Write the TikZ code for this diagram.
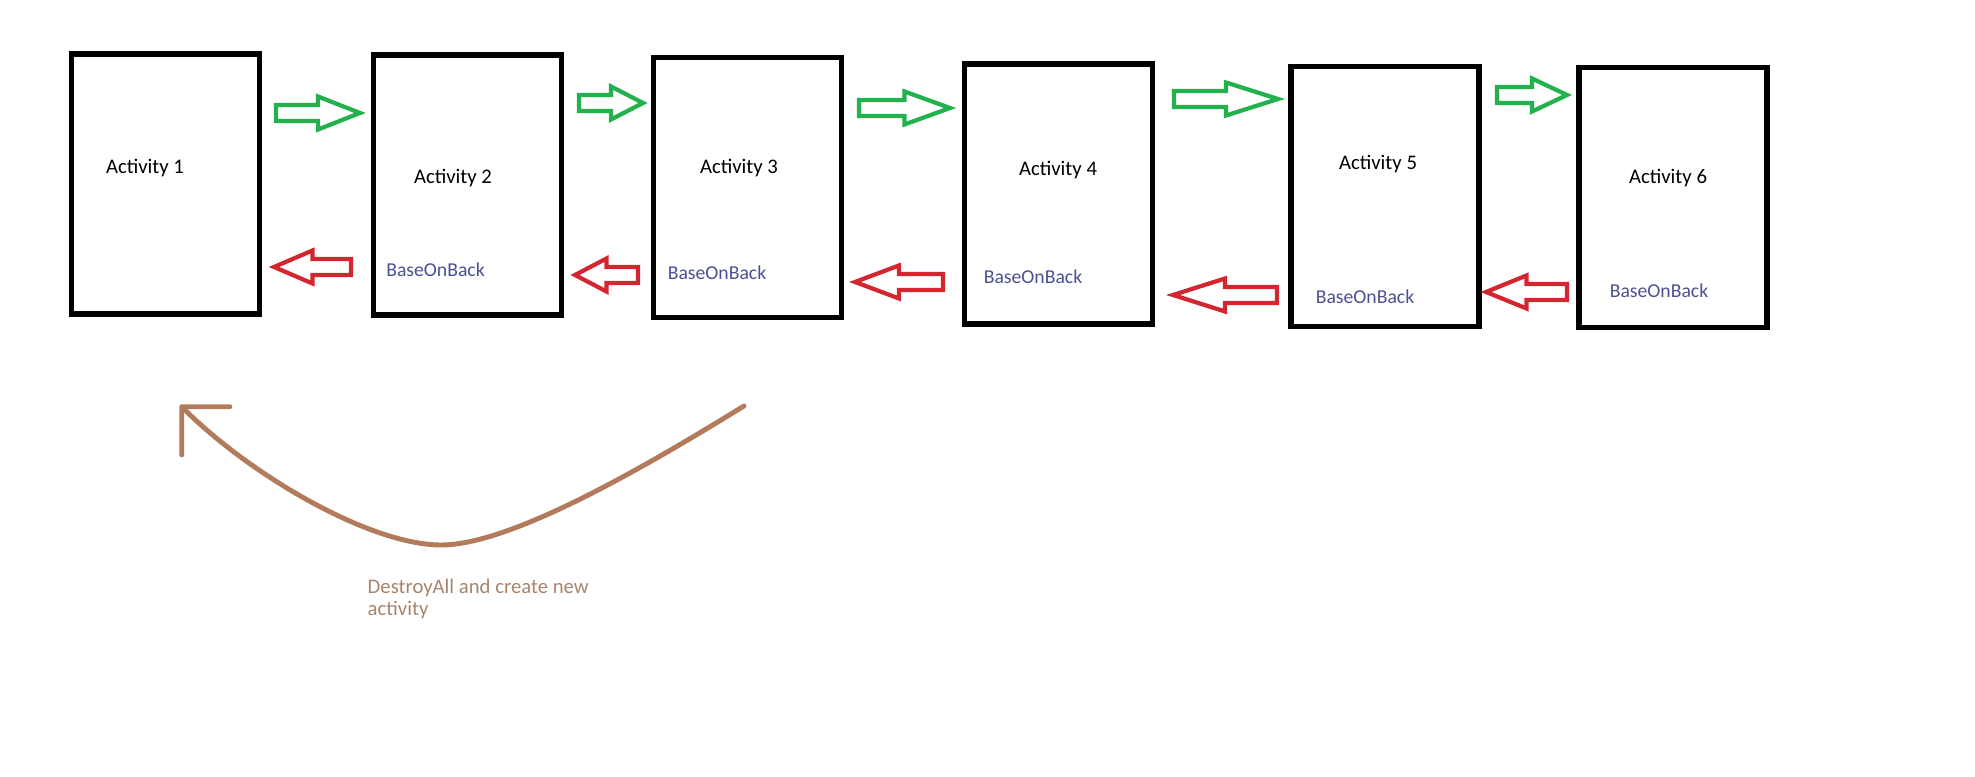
\documentclass[tikz,border=0pt]{standalone}
\usepackage{fontspec}
\setmainfont{Carlito}
\usepackage{tikz}
\usetikzlibrary{arrows.meta,calc}
\definecolor{paintgreen}{HTML}{22B14C}
\definecolor{paintred}{HTML}{D42630}
\definecolor{paintbrown}{HTML}{B27C5C}
\definecolor{backblue}{HTML}{4A5092}
\definecolor{notebrown}{HTML}{A8846C}
\tikzset{
  actbox/.style={draw=black,line width=1.6pt,minimum width=1.88cm,minimum height=2.6cm,inner sep=0pt},
  actlabel/.style={font=\fontsize{5.9}{7}\selectfont,text=black,inner sep=0pt},
  backlabel/.style={font=\fontsize{5.6}{7}\selectfont,text=backblue,inner sep=0pt},
  notelabel/.style={font=\fontsize{5.9}{6.4}\selectfont,text=notebrown,inner sep=0pt,align=left},
  fwdarrow/.style={draw=paintgreen,line width=1.2pt},
  backarrow/.style={draw=paintred,line width=1.2pt},
  destroyarrow/.style={draw=paintbrown,line width=1.4pt,line cap=round,
    -{Straight Barb[length=3.4mm,width=6.8mm,round]}}
}
\newcommand{\blockarrow}[3]{%
  \draw[#1] let \p1=(#2), \p2=(#3) in
    (\x1,{\y2+0.8mm}) -- ({(\x1+\x2)/2},{\y2+0.8mm}) -- ({(\x1+\x2)/2},{\y2+1.65mm})
    -- (\x2,\y2) -- ({(\x1+\x2)/2},{\y2-1.65mm}) -- ({(\x1+\x2)/2},{\y2-0.8mm})
    -- (\x1,{\y2-0.8mm}) -- cycle;}

\begin{document}
\begin{tikzpicture}
\useasboundingbox (0,0) rectangle (19.75,7.77);

\node[actbox] (act1) at (1.655,5.93) {};
\node[actbox] (act2) at (4.675,5.92) {};
\node[actbox] (act3) at (7.475,5.895) {};
\node[actbox] (act4) at (10.585,5.83) {};
\node[actbox] (act5) at (13.85,5.805) {};
\node[actbox] (act6) at (16.73,5.795) {};

\node[actlabel] (name1) at (1.45,6.09) {Activity 1};
\node[actlabel] (name2) at (4.53,5.99) {Activity 2};
\node[actlabel] (name3) at (7.39,6.09) {Activity 3};
\node[actlabel] (name4) at (10.58,6.07) {Activity 4};
\node[actlabel] (name5) at (13.78,6.13) {Activity 5};
\node[actlabel] (name6) at (16.68,5.99) {Activity 6};

\node[backlabel] (back2) at (4.355,5.07) {BaseOnBack};
\node[backlabel] (back3) at (7.17,5.04) {BaseOnBack};
\node[backlabel] (back4) at (10.33,5.00) {BaseOnBack};
\node[backlabel] (back5) at (13.65,4.80) {BaseOnBack};
\node[backlabel] (back6) at (16.59,4.86) {BaseOnBack};

\coordinate (fwd1a) at (2.76,6.64);  \coordinate (fwd1b) at (3.60,6.64);
\coordinate (fwd2a) at (5.79,6.74);  \coordinate (fwd2b) at (6.43,6.74);
\coordinate (fwd3a) at (8.59,6.69);  \coordinate (fwd3b) at (9.50,6.69);
\coordinate (fwd4a) at (11.74,6.78); \coordinate (fwd4b) at (12.78,6.78);
\coordinate (fwd5a) at (14.97,6.82); \coordinate (fwd5b) at (15.67,6.82);
\blockarrow{fwdarrow}{fwd1a}{fwd1b}
\blockarrow{fwdarrow}{fwd2a}{fwd2b}
\blockarrow{fwdarrow}{fwd3a}{fwd3b}
\blockarrow{fwdarrow}{fwd4a}{fwd4b}
\blockarrow{fwdarrow}{fwd5a}{fwd5b}

\coordinate (back1a) at (3.51,5.10);  \coordinate (back1b) at (2.74,5.10);
\coordinate (back2a) at (6.38,5.02);  \coordinate (back2b) at (5.75,5.02);
\coordinate (back3a) at (9.43,4.95);  \coordinate (back3b) at (8.55,4.95);
\coordinate (back4a) at (12.77,4.82); \coordinate (back4b) at (11.73,4.82);
\coordinate (back5a) at (15.67,4.85); \coordinate (back5b) at (14.86,4.85);
\blockarrow{backarrow}{back1a}{back1b}
\blockarrow{backarrow}{back2a}{back2b}
\blockarrow{backarrow}{back3a}{back3b}
\blockarrow{backarrow}{back4a}{back4b}
\blockarrow{backarrow}{back5a}{back5b}

\coordinate (destroyfrom) at (7.44,3.71);
\coordinate (destroylow) at (4.41,2.32);
\coordinate (destroyto) at (1.80,3.72);
\draw[destroyarrow] (destroyfrom) .. controls (6.40,3.07) and (5.10,2.32) .. (destroylow)
  .. controls (3.70,2.32) and (2.50,3.02) .. (destroyto);
\node[notelabel,anchor=north west] (destroynote) at (3.67,1.99) {DestroyAll and create new\\activity};
\end{tikzpicture}
\end{document}
